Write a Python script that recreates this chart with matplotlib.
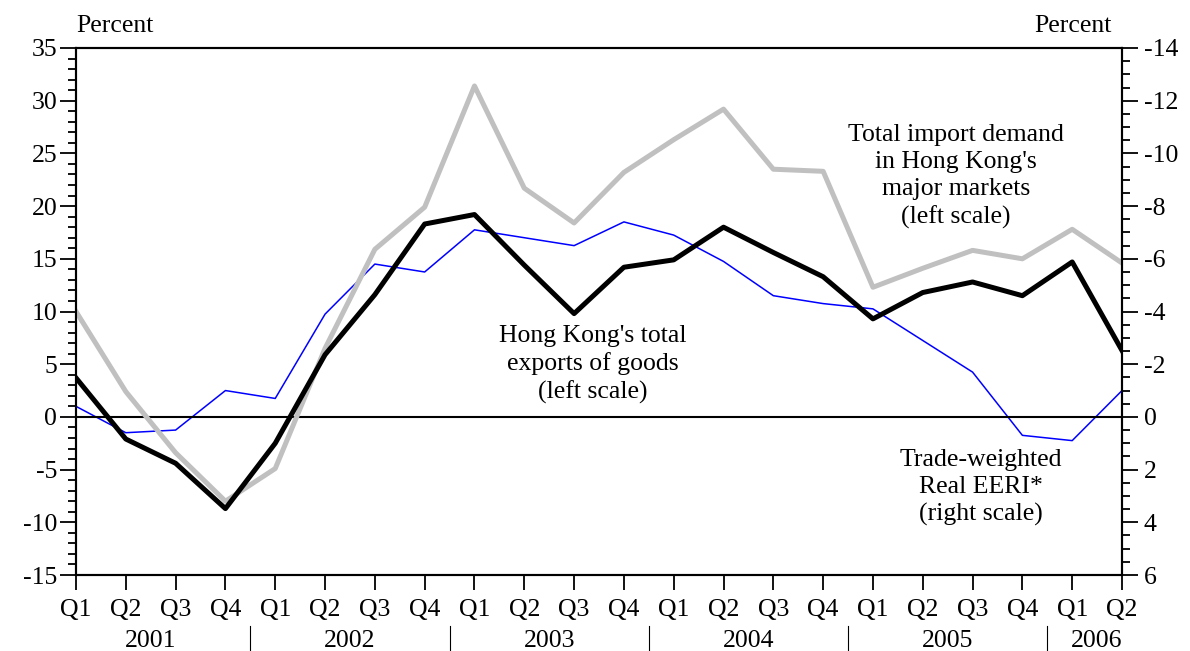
import matplotlib.pyplot as plt
from matplotlib.ticker import MultipleLocator
import matplotlib.transforms as mtransforms

plt.rcParams['font.family'] = ['Liberation Serif', 'DejaVu Serif']
plt.rcParams['axes.unicode_minus'] = False

quarters = ['Q1', 'Q2', 'Q3', 'Q4'] * 5 + ['Q1', 'Q2']
years = ['2001', '2002', '2003', '2004', '2005', '2006']

# Hong Kong's total exports of goods (left scale, %)
exports = [3.7, -2.1, -4.4, -8.7, -2.5, 5.9, 11.6, 18.3, 19.2, 14.4, 9.8,
           14.2, 14.9, 18.0, 15.6, 13.3, 9.3, 11.8, 12.8, 11.5, 14.7, 6.3]
# Total import demand in major markets (left scale, %)
imports = [10.0, 2.4, -3.4, -8.0, -4.9, 6.5, 15.9, 19.9, 31.4, 21.7, 18.4,
           23.2, 26.3, 29.2, 23.5, 23.3, 12.3, 14.1, 15.8, 15.0, 17.8, 14.6]
# Trade-weighted real EERI (right scale, %)
eeri = [-0.4, 0.6, 0.5, -1.0, -0.7, -3.9, -5.8, -5.5, -7.1, -6.8, -6.5,
        -7.4, -6.9, -5.9, -4.6, -4.3, -4.1, -2.9, -1.7, 0.7, 0.9, -1.0]

x = list(range(len(quarters)))

fig = plt.figure(figsize=(11.9, 6.51), dpi=100)
ax = fig.add_axes([76 / 1190, 1 - 575 / 651, (1122 - 76) / 1190, (575 - 48) / 651])
ax2 = ax.twinx()
ax.set_zorder(ax2.get_zorder() + 1)
ax.patch.set_visible(False)

ax.axhline(0, color='black', lw=1.5, zorder=1)
ax.plot(x, imports, color='#c0c0c0', lw=3.6, zorder=2)
ax.plot(x, exports, color='black', lw=3.6, zorder=3)
ax2.plot(x, eeri, color='#0000ff', lw=1.1)

ax.set_xlim(0, len(x) - 1)
ax.set_ylim(-15, 35)
ax2.set_ylim(6, -14)

ax.yaxis.set_major_locator(MultipleLocator(5))
ax.yaxis.set_minor_locator(MultipleLocator(1))
ax2.yaxis.set_major_locator(MultipleLocator(2))
ax2.yaxis.set_minor_locator(MultipleLocator(0.5))
ax.set_xticks(x)
ax.set_xticklabels(quarters)

for a in (ax, ax2):
    for s in a.spines.values():
        s.set_linewidth(1.5)
ax.tick_params(axis='y', which='major', direction='out', length=11.5, width=1.3, labelsize=18.5, pad=2)
ax.tick_params(axis='y', which='minor', direction='out', length=5.8, width=1.3)
ax2.tick_params(axis='y', which='major', direction='out', length=11.5, width=1.3, labelsize=18.5, pad=4)
ax2.tick_params(axis='y', which='minor', direction='out', length=5.8, width=1.3)
ax.tick_params(axis='x', which='major', direction='out', length=11, width=1.3, labelsize=18.5, pad=6)

ax.text(0.0, 1.02, 'Percent', transform=ax.transAxes, ha='left', va='bottom', fontsize=18.5)
ax.text(0.99, 1.02, 'Percent', transform=ax.transAxes, ha='right', va='bottom', fontsize=18.5)

trans = mtransforms.blended_transform_factory(ax.transData, ax.transAxes)
year_pos = [1.5, 5.5, 9.5, 13.5, 17.5, 20.5]
for yr, xp in zip(years, year_pos):
    ax.text(xp, -0.125, yr, transform=trans, ha='center', va='center', fontsize=18.5)
for sep in [3.5, 7.5, 11.5, 15.5, 19.5]:
    ax.plot([sep, sep], [-0.097, -0.145], transform=trans, color='black', lw=0.8, clip_on=False)

ax.text(17.66, 22.8, "Total import demand\nin Hong Kong's\nmajor markets\n(left scale)",
        ha='center', va='center', fontsize=18.5, linespacing=1.3)
ax.text(10.37, 5.0, "Hong Kong's total\nexports of goods\n(left scale)",
        ha='center', va='center', fontsize=18.5, linespacing=1.3)
ax.text(18.17, -6.7, "Trade-weighted\nReal EERI*\n(right scale)",
        ha='center', va='center', fontsize=18.5, linespacing=1.3)

fig.savefig('out.png', dpi=100)
